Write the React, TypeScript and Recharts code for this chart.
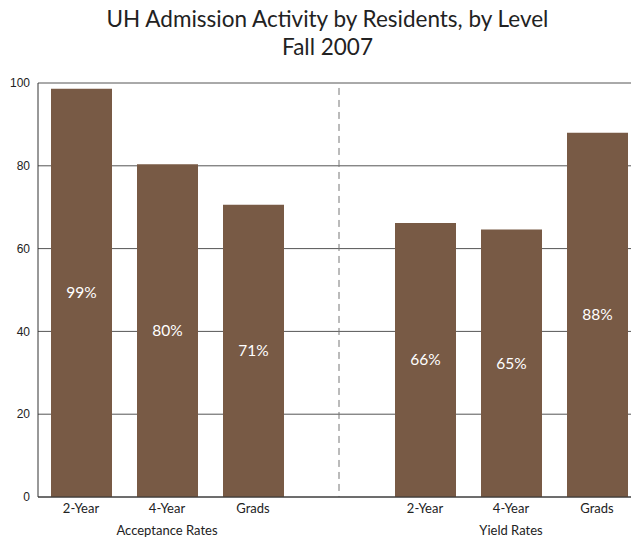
import React from "react";
import {
  BarChart,
  Bar,
  XAxis,
  YAxis,
  CartesianGrid,
  ReferenceLine,
  LabelList,
} from "recharts";

const categoryIds = ["acc2", "acc4", "accG", "gap", "yld2", "yld4", "yldG"];
const categoryLabels = ["2-Year", "4-Year", "Grads", "", "2-Year", "4-Year", "Grads"];
const groupLabels = ["", "Acceptance Rates", "", "", "", "Yield Rates", ""];
const rateValues = [98.6, 80.4, 70.6, null, 66.2, 64.6, 88.0];
const rateLabels = ["99%", "80%", "71%", "", "66%", "65%", "88%"];
const yTicks = [0, 20, 40, 60, 80, 100];

const data = categoryIds.map((id, i) => ({
  id,
  label: categoryLabels[i],
  group: groupLabels[i],
  value: rateValues[i],
  text: rateLabels[i],
}));

const FONT = "Lato, 'Open Sans', sans-serif";

function CategoryTick(props: any) {
  const { x, y, payload, index } = props;
  const i = typeof index === "number" ? index : categoryIds.indexOf(payload.value);
  return (
    <g>
      <text x={x} y={y + 8} textAnchor="middle" fontSize={13} fill="#222" fontFamily={FONT}>
        {categoryLabels[i]}
      </text>
      {groupLabels[i] ? (
        <text x={x} y={y + 30} textAnchor="middle" fontSize={13} fill="#222" fontFamily={FONT}>
          {groupLabels[i]}
        </text>
      ) : null}
    </g>
  );
}

export default function App() {
  return (
    <div
      style={{
        position: "absolute",
        left: 0,
        top: 0,
        width: 631,
        height: 538,
        overflow: "hidden",
        background: "#fff",
      }}
    >
      <div
        style={{
          position: "absolute",
          left: 0,
          top: 5,
          width: 655,
          textAlign: "center",
          fontFamily: FONT,
          fontSize: 22.5,
          lineHeight: "28px",
          color: "#222",
        }}
      >
        <div>UH Admission Activity by Residents, by Level</div>
        <div>Fall 2007</div>
      </div>
      <div style={{ position: "absolute", left: 0, top: 0 }}>
        <BarChart
          width={640}
          height={538}
          data={data}
          margin={{ top: 83, right: 0, left: 0, bottom: 0 }}
          barSize={61}
        >
          <CartesianGrid vertical={false} stroke="#555" strokeWidth={1} />
          <XAxis
            dataKey="id"
            height={41}
            interval={0}
            tickLine={false}
            axisLine={{ stroke: "#333" }}
            tick={<CategoryTick />}
          />
          <YAxis
            width={38}
            domain={[0, 100]}
            ticks={yTicks}
            tickLine={false}
            axisLine={{ stroke: "#333" }}
            tick={{ fontSize: 12, fill: "#222", fontFamily: "'Liberation Sans', Arial, sans-serif" }}
          />
          <ReferenceLine
            segment={[
              { x: "gap", y: 98.8 },
              { x: "gap", y: 0 },
            ]}
            stroke="#777"
            strokeDasharray="7 5"
          />
          <Bar dataKey="value" fill="#785a45" isAnimationActive={false}>
            <LabelList
              dataKey="text"
              position="center"
              fill="#fff"
              fontSize={15.5}
              fontFamily={FONT}
            />
          </Bar>
        </BarChart>
      </div>
    </div>
  );
}
